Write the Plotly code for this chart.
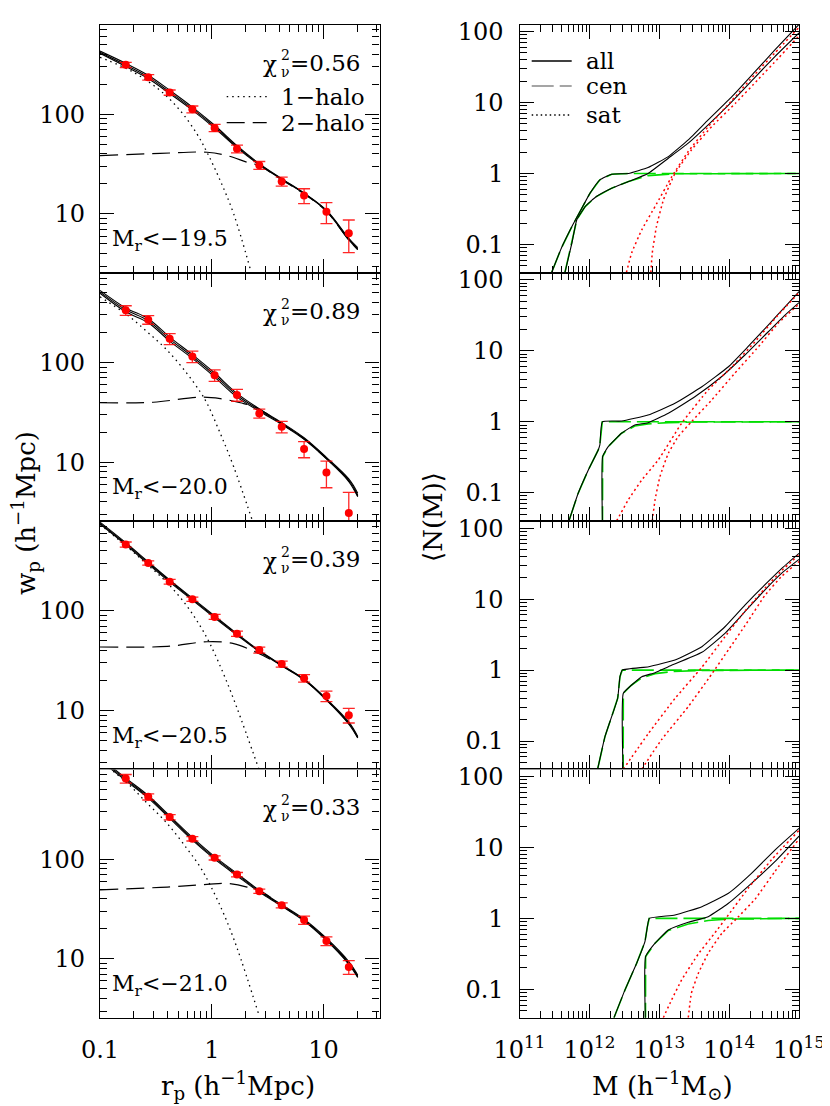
import plotly.graph_objects as go

# ---------------- data: projected correlation functions ----------------
rp_bins = [0.17, 0.27, 0.42, 0.67, 1.06, 1.68, 2.66, 4.22, 6.69, 10.6, 16.8]

wp_195 = [313, 235, 165, 112, 73, 45, 30.8, 21.2, 15.3, 10.5, 6.4]
err_195 = [19, 15, 10, 9, 6, 4, 2.8, 2.2, 2.6, 2.5, 2.3]
wp_200 = [334, 269, 173, 115, 74.6, 47.3, 30.9, 22.7, 13.6, 7.9, 3.1]
err_200 = [37, 27, 22, 15, 10, 6.4, 3.2, 3.0, 2.5, 2.35, 1.9]
wp_205 = [463, 302, 196, 131, 87, 59, 40.5, 29.3, 21.1, 14.0, 9.0]
err_205 = [27, 15, 11, 6.5, 5, 3.5, 2.8, 2.0, 1.8, 1.7, 1.5]
wp_210 = [642, 422, 264, 160, 103, 70, 47.7, 34.4, 24.5, 15.1, 8.3]
err_210 = [64, 30, 16, 8, 5, 3.5, 2.4, 2.0, 2.3, 1.5, 1.3]

rp_model = [0.1, 0.17, 0.27, 0.42, 0.67, 1.06, 1.68, 2.66, 4.22, 6.69, 10.6, 16.8, 20.2]
mod_195_hi = [430, 324, 246, 174, 118, 77.5, 48.3, 32.0, 22.6, 16.2, 10.9, 5.7, 4.6]
mod_195_mid = [418, 312, 237, 167, 114, 75, 47, 31.5, 22.4, 16.1, 10.8, 5.6, 4.5]
mod_195_lo = [408, 301, 228, 161, 110, 72.5, 46, 31.1, 22.2, 16.0, 10.7, 5.5, 4.4]
mod_200_hi = [530, 353, 275, 180, 120, 78.5, 49, 34.3, 25.0, 17.6, 11.2, 6.8, 4.9]
mod_200_mid = [512, 338, 263, 172, 115, 75, 47, 33.4, 24.5, 17.3, 11.0, 6.6, 4.7]
mod_200_lo = [495, 323, 251, 164, 110, 71.5, 45, 32.5, 24.0, 17.0, 10.8, 6.4, 4.5]
mod_205_hi = [775, 482, 310, 204, 134, 89, 59, 40, 28.7, 20.7, 13.1, 7.7, 5.5]
mod_205_mid = [757, 470, 302, 199, 131, 87, 58, 39.5, 28.4, 20.5, 12.9, 7.5, 5.4]
mod_205_lo = [740, 458, 294, 194, 128, 85, 57, 39, 28.1, 20.3, 12.7, 7.3, 5.3]
mod_210_hi = [1040, 650, 435, 272, 165, 106, 72, 48.7, 35.0, 25.0, 16.1, 9.4, 6.9]
mod_210_mid = [1010, 631, 422, 264, 160, 103, 70, 47.7, 34.4, 24.5, 15.7, 9.1, 6.7]
mod_210_lo = [980, 612, 409, 256, 155, 100, 68, 46.7, 33.8, 24.0, 15.3, 8.8, 6.5]

rp_1h_195 = [0.1, 0.199, 0.345, 0.521, 0.736, 0.906, 1.19, 1.57, 2.21]
w1h_195 = [373, 264, 173, 109, 63.5, 41.5, 21.6, 10, 2.8]
rp_1h_200 = [0.1, 0.174, 0.262, 0.396, 0.598, 0.786, 0.906, 1.19, 1.57, 2.28]
w1h_200 = [456, 302, 205, 134, 78, 51, 39, 19.5, 9, 2.7]
rp_1h_205 = [0.1, 0.174, 0.262, 0.396, 0.598, 0.786, 0.97, 1.28, 1.68, 2.65]
w1h_205 = [734, 441, 295, 193, 112, 70.6, 46, 23, 10.6, 2.55]
rp_1h_210 = [0.1, 0.174, 0.262, 0.396, 0.598, 0.786, 0.97, 1.28, 1.68, 2.65]
w1h_210 = [960, 585, 367, 230, 128, 83.6, 54.6, 28.2, 12.9, 2.7]

rp_2h_195 = [0.1, 0.345, 0.906, 1.37, 2.07, 2.66, 4.22, 6.69, 10.6, 16.8, 20.2]
w2h_195 = [38.5, 40.5, 41.6, 38.5, 33, 30.5, 22.0, 15.9, 10.6, 5.5, 4.4]
rp_2h_200 = [0.1, 0.3, 0.786, 1.19, 1.8, 2.55, 4.22, 6.69, 10.6, 16.8, 20.2]
w2h_200 = [39.5, 40, 45, 43.5, 39.5, 35, 24.2, 17.1, 10.9, 6.5, 4.6]
rp_2h_205 = [0.1, 0.4, 0.906, 1.57, 2.36, 2.9, 4.22, 6.69, 10.6, 16.8, 20.2]
w2h_205 = [43.4, 44, 49, 47, 39.5, 35.5, 28.2, 20.4, 12.8, 7.4, 5.35]
rp_2h_210 = [0.1, 0.4, 0.906, 1.37, 2.07, 2.9, 4.22, 6.69, 10.6, 16.8, 20.2]
w2h_210 = [49.3, 52.5, 55.8, 57, 52.5, 46, 34.2, 24.3, 15.6, 9.0, 6.6]

chi2_labels = ["0.56", "0.89", "0.39", "0.33"]
mag_labels = ["−19.5", "−20.0", "−20.5", "−21.0"]

# ---------------- data: halo occupation (log10 M, log10 N) ----------------
lm_all_a_1 = [11.46, 11.60, 11.75, 11.866, 12.01, 12.15, 12.32, 12.56, 12.84, 13.13, 13.415, 13.70, 14.04, 14.37, 14.655, 15.0]
ln_all_a_1 = [-1.396, -1.05, -0.748, -0.537, -0.277, -0.09, -0.01, 0.0, 0.083, 0.238, 0.473, 0.755, 1.083, 1.435, 1.741, 2.10]
lm_all_b_1 = [11.65, 11.75, 11.82, 11.94, 12.10, 12.32, 12.56, 12.84, 13.13, 13.415, 13.70, 14.04, 14.37, 14.655, 15.0]
ln_all_b_1 = [-1.396, -0.98, -0.653, -0.466, -0.325, -0.207, -0.114, 0.0, 0.215, 0.427, 0.685, 1.013, 1.356, 1.647, 1.98]
lm_cen_a_1 = [11.46, 11.60, 11.75, 11.866, 12.01, 12.15, 12.32, 12.56, 15.0]
ln_cen_a_1 = [-1.396, -1.05, -0.748, -0.537, -0.277, -0.09, -0.01, 0.0, 0.0]
lm_cen_b_1 = [11.65, 11.75, 11.82, 11.94, 12.10, 12.32, 12.56, 12.84, 13.2, 15.0]
ln_cen_b_1 = [-1.396, -0.98, -0.653, -0.466, -0.325, -0.207, -0.114, -0.03, -0.005, 0.0]
lm_sat_a_1 = [12.53, 12.605, 12.75, 12.94, 13.18, 13.415, 13.70, 14.04, 14.37, 14.655, 15.0]
ln_sat_a_1 = [-1.396, -1.12, -0.794, -0.466, -0.044, 0.309, 0.66, 1.03, 1.40, 1.70, 2.06]
lm_sat_b_1 = [12.88, 12.90, 12.96, 13.06, 13.225, 13.46, 13.75, 14.09, 14.42, 14.70, 15.0]
ln_sat_b_1 = [-1.396, -1.12, -0.748, -0.372, 0.0, 0.332, 0.66, 0.99, 1.33, 1.62, 1.94]

lm_all_a_2 = [11.708, 11.84, 11.985, 12.127, 12.15, 12.185, 12.46, 12.84, 13.225, 13.61, 13.99, 14.27, 14.56, 14.80, 15.0]
ln_all_a_2 = [-1.397, -1.007, -0.679, -0.397, -0.327, 0.0, 0.011, 0.096, 0.26, 0.494, 0.776, 1.058, 1.363, 1.621, 1.835]
lm_all_b_2 = [12.188, 12.19, 12.27, 12.46, 12.65, 12.84, 13.13, 13.51, 13.89, 14.226, 14.56, 14.80, 15.0]
ln_all_b_2 = [-1.5, -0.49, -0.35, -0.162, -0.045, -0.013, 0.12, 0.353, 0.635, 0.941, 1.269, 1.504, 1.68]
lm_cen_a_2 = [11.708, 11.84, 11.985, 12.127, 12.15, 12.185, 15.0]
ln_cen_a_2 = [-1.397, -1.007, -0.679, -0.397, -0.327, 0.0, 0.0]
lm_cen_b_2 = [12.188, 12.19, 12.27, 12.46, 12.65, 12.84, 13.13, 13.5, 15.0]
ln_cen_b_2 = [-1.5, -0.49, -0.35, -0.162, -0.06, -0.03, -0.012, -0.004, 0.0]
lm_sat_a_2 = [12.39, 12.557, 12.75, 12.986, 13.32, 13.70, 14.04, 14.37, 14.70, 15.0]
ln_sat_a_2 = [-1.397, -1.1, -0.82, -0.538, -0.021, 0.448, 0.776, 1.128, 1.504, 1.82]
lm_sat_b_2 = [12.90, 12.94, 13.01, 13.13, 13.27, 13.46, 13.75, 14.08, 14.42, 14.70, 15.0]
ln_sat_b_2 = [-1.397, -1.1, -0.773, -0.444, -0.21, 0.0, 0.307, 0.683, 1.058, 1.387, 1.66]

lm_all_a_3 = [12.118, 12.223, 12.319, 12.405, 12.438, 12.471, 12.85, 13.225, 13.61, 13.94, 14.226, 14.51, 14.75, 15.0]
ln_all_a_3 = [-1.397, -0.938, -0.656, -0.397, -0.093, 0.0, 0.048, 0.142, 0.33, 0.611, 0.917, 1.2, 1.43, 1.645]
lm_all_b_3 = [12.484, 12.486, 12.605, 12.75, 12.94, 13.13, 13.61, 13.94, 14.226, 14.51, 14.75, 15.0]
ln_all_b_3 = [-1.5, -0.327, -0.21, -0.093, -0.037, 0.048, 0.25, 0.518, 0.823, 1.128, 1.363, 1.56]
lm_cen_a_3 = [12.118, 12.223, 12.319, 12.405, 12.438, 12.471, 15.0]
ln_cen_a_3 = [-1.397, -0.938, -0.656, -0.397, -0.093, 0.0, 0.0]
lm_cen_b_3 = [12.484, 12.486, 12.605, 12.75, 12.94, 13.2, 13.6, 15.0]
ln_cen_b_3 = [-1.5, -0.327, -0.21, -0.11, -0.05, -0.02, -0.005, 0.0]
lm_sat_a_3 = [12.485, 12.84, 13.225, 13.61, 13.94, 14.226, 14.51, 14.75, 15.0]
ln_sat_a_3 = [-1.397, -0.9, -0.40, 0.04, 0.47, 0.83, 1.15, 1.40, 1.625]
lm_sat_b_3 = [12.75, 13.03, 13.415, 13.72, 14.0, 14.25, 14.51, 14.75, 15.0]
ln_sat_b_3 = [-1.397, -0.984, -0.515, -0.1, 0.3, 0.66, 1.05, 1.32, 1.53]

lm_all_a_4 = [12.352, 12.51, 12.677, 12.795, 12.83, 12.857, 13.225, 13.61, 13.99, 14.32, 14.655, 15.0]
ln_all_a_4 = [-1.4, -1.008, -0.632, -0.328, -0.117, 0.0, 0.048, 0.165, 0.354, 0.635, 0.963, 1.269]
lm_all_b_4 = [12.803, 12.805, 12.94, 13.13, 13.415, 13.70, 13.99, 14.32, 14.655, 15.0]
ln_all_b_4 = [-1.5, -0.539, -0.35, -0.163, -0.055, 0.024, 0.213, 0.494, 0.80, 1.16]
lm_cen_a_4 = [12.352, 12.51, 12.677, 12.795, 12.83, 12.857, 15.0]
ln_cen_a_4 = [-1.4, -1.008, -0.632, -0.328, -0.117, 0.0, 0.0]
lm_cen_b_4 = [12.803, 12.805, 12.94, 13.13, 13.415, 13.70, 14.0, 15.0]
ln_cen_b_4 = [-1.5, -0.539, -0.35, -0.17, -0.08, -0.03, -0.01, 0.0]
lm_sat_a_4 = [13.058, 13.177, 13.32, 13.56, 13.8, 13.99, 14.27, 14.61, 15.0]
ln_sat_a_4 = [-1.4, -1.149, -0.868, -0.5, -0.2, 0.05, 0.42, 0.83, 1.24]
lm_sat_b_4 = [13.415, 13.46, 13.56, 13.70, 13.896, 14.11, 14.37, 14.655, 15.0]
ln_sat_b_4 = [-1.4, -1.055, -0.773, -0.492, -0.21, 0.0, 0.27, 0.66, 1.12]

# ---------------- figure ----------------
OFF = 8  # page body margin
W, H = 830 - OFF, 1106 - OFF
FONT = "DejaVu Serif"
tops = [24.5, 272.8, 521.1, 769.4]
PH = 248.3
LX = (100.0, 379.5)
RX = (519.5, 799.0)

left_sets = [
    (wp_195, err_195, mod_195_hi, mod_195_mid, mod_195_lo, rp_1h_195, w1h_195, rp_2h_195, w2h_195),
    (wp_200, err_200, mod_200_hi, mod_200_mid, mod_200_lo, rp_1h_200, w1h_200, rp_2h_200, w2h_200),
    (wp_205, err_205, mod_205_hi, mod_205_mid, mod_205_lo, rp_1h_205, w1h_205, rp_2h_205, w2h_205),
    (wp_210, err_210, mod_210_hi, mod_210_mid, mod_210_lo, rp_1h_210, w1h_210, rp_2h_210, w2h_210),
]
right_sets = [
    ((lm_all_a_1, ln_all_a_1), (lm_all_b_1, ln_all_b_1), (lm_cen_a_1, ln_cen_a_1), (lm_cen_b_1, ln_cen_b_1), (lm_sat_a_1, ln_sat_a_1), (lm_sat_b_1, ln_sat_b_1)),
    ((lm_all_a_2, ln_all_a_2), (lm_all_b_2, ln_all_b_2), (lm_cen_a_2, ln_cen_a_2), (lm_cen_b_2, ln_cen_b_2), (lm_sat_a_2, ln_sat_a_2), (lm_sat_b_2, ln_sat_b_2)),
    ((lm_all_a_3, ln_all_a_3), (lm_all_b_3, ln_all_b_3), (lm_cen_a_3, ln_cen_a_3), (lm_cen_b_3, ln_cen_b_3), (lm_sat_a_3, ln_sat_a_3), (lm_sat_b_3, ln_sat_b_3)),
    ((lm_all_a_4, ln_all_a_4), (lm_all_b_4, ln_all_b_4), (lm_cen_a_4, ln_cen_a_4), (lm_cen_b_4, ln_cen_b_4), (lm_sat_a_4, ln_sat_a_4), (lm_sat_b_4, ln_sat_b_4)),
]

fig = go.Figure()


def axn(k):
    return ("x" if k == 1 else f"x{k}"), ("y" if k == 1 else f"y{k}")


def px2fx(px):
    return (px - OFF) / W


def py2fy(py):
    return 1 - (py - OFF) / H


def minor_vals(e0, e1):
    return [m * 10 ** e for e in range(e0, e1) for m in range(2, 10)]


tickfont = dict(family=FONT, size=24, color="black")
common = dict(type="log", showgrid=False, zeroline=False, showline=True, linecolor="black",
              linewidth=1.2, mirror="allticks", ticks="inside", ticklen=14, tickwidth=1.1,
              tickcolor="black", tickfont=tickfont, tickmode="array", automargin=False)
minor_common = dict(ticks="inside", ticklen=7, tickwidth=1.0, tickcolor="black", showgrid=False)

layout_axes = {}
for i in range(4):
    top = tops[i]
    ydom = [py2fy(top + PH), py2fy(top)]
    kl, kr = 2 * i + 1, 2 * i + 2
    # ----- left panel -----
    xa, ya = axn(kl)
    wp, err, mhi, mmid, mlo, r1, w1, r2, w2 = left_sets[i]
    for mod in (mhi, mmid, mlo):
        fig.add_trace(go.Scatter(x=rp_model, y=mod, mode="lines", line=dict(color="black", width=1.1, shape="spline"),
                                 xaxis=xa, yaxis=ya, showlegend=False, hoverinfo="skip"))
    fig.add_trace(go.Scatter(x=r1, y=w1, mode="lines", line=dict(color="black", width=1.3, dash="1.5px,4px", shape="spline"),
                             xaxis=xa, yaxis=ya, showlegend=False))
    fig.add_trace(go.Scatter(x=r2, y=w2, mode="lines", line=dict(color="black", width=1.2, dash="18px,8px", shape="spline"),
                             xaxis=xa, yaxis=ya, showlegend=False))
    fig.add_trace(go.Scatter(x=rp_bins, y=wp, mode="markers",
                             marker=dict(color="red", size=8),
                             error_y=dict(type="data", array=err, color="rgba(255,0,0,0.85)", thickness=1.3, width=6),
                             xaxis=xa, yaxis=ya, showlegend=False))
    last = (i == 3)
    layout_axes["xaxis" if kl == 1 else f"xaxis{kl}"] = dict(
        common, domain=[px2fx(LX[0]), px2fx(LX[1])], range=[-1, 1.5], anchor=ya,
        tickvals=[0.1, 1, 10], ticktext=["0.1", "1", "10"], showticklabels=last, ticklabelstandoff=10,
        minor=dict(minor_common, tickvals=minor_vals(-1, 2)))
    layout_axes["yaxis" if kl == 1 else f"yaxis{kl}"] = dict(
        common, domain=ydom, range=[0.41, 2.9], anchor=xa,
        tickvals=[10, 100], ticktext=["10", "100"], ticklabelstandoff=9,
        minor=dict(minor_common, tickvals=minor_vals(0, 3)))
    # ----- right panel -----
    xa, ya = axn(kr)
    alla, allb, cena, cenb, sata, satb = right_sets[i]
    for lm, ln in (cena, cenb):
        fig.add_trace(go.Scatter(x=[10 ** v for v in lm], y=[10 ** v for v in ln], mode="lines",
                                 line=dict(color="#00dd00", width=1.6, dash="22px,6px"),
                                 xaxis=xa, yaxis=ya, showlegend=False))
    for lm, ln in (alla, allb):
        fig.add_trace(go.Scatter(x=[10 ** v for v in lm], y=[10 ** v for v in ln], mode="lines",
                                 line=dict(color="black", width=1.1, shape="spline", smoothing=0.4),
                                 xaxis=xa, yaxis=ya, showlegend=False))
    for lm, ln in (sata, satb):
        fig.add_trace(go.Scatter(x=[10 ** v for v in lm], y=[10 ** v for v in ln], mode="lines",
                                 line=dict(color="red", width=1.5, dash="2px,3px", shape="spline", smoothing=0.4),
                                 xaxis=xa, yaxis=ya, showlegend=False))
    layout_axes["xaxis" if kr == 1 else f"xaxis{kr}"] = dict(
        common, domain=[px2fx(RX[0]), px2fx(RX[1])], range=[11, 15], anchor=ya,
        tickvals=[1e11, 1e12, 1e13, 1e14, 1e15],
        ticktext=["10<sup>11</sup>", "10<sup>12</sup>", "10<sup>13</sup>", "10<sup>14</sup>", "10<sup>15</sup>"],
        showticklabels=last, ticklabelstandoff=10,
        minor=dict(minor_common, tickvals=minor_vals(11, 15)))
    layout_axes["yaxis" if kr == 1 else f"yaxis{kr}"] = dict(
        common, domain=ydom, range=[-1.4, 2.1], anchor=xa,
        tickvals=[0.1, 1, 10, 100], ticktext=["0.1", "1", "10", "100"], ticklabelstandoff=10,
        minor=dict(minor_common, tickvals=minor_vals(-2, 3)))

annotations = []
shapes = []
lab_font = dict(family=FONT, size=23, color="black")
mag_font = dict(family=FONT, size=22, color="black")
small_font = dict(family=FONT, size=14, color="black")


def ann(x, y, text, font, xanchor="left", yanchor="middle", **kw):
    d = dict(xref="paper", yref="paper", x=px2fx(x), y=py2fy(y), xanchor=xanchor, yanchor=yanchor,
             showarrow=False, font=font, text=text)
    d.update(kw)
    annotations.append(d)


for i in range(4):
    top = tops[i]
    # chi^2_nu label with stacked super/subscript
    ann(362, top + 38, f"={chi2_labels[i]}", lab_font, xanchor="right")
    ann(279, top + 40, "χ", lab_font, xanchor="right")
    ann(279, top + 31, "2", small_font)
    ann(279, top + 47, "ν", small_font)
    ann(110, top + 216, f"M<sub>r</sub>&lt;{mag_labels[i]}", mag_font)

# left legend
shapes.append(dict(type="line", xref="paper", yref="paper", x0=px2fx(226.7), x1=px2fx(266.7),
                   y0=py2fy(96.7), y1=py2fy(96.7), line=dict(color="black", width=1.3, dash="1.5px,4px")))
shapes.append(dict(type="line", xref="paper", yref="paper", x0=px2fx(226.7), x1=px2fx(266.7),
                   y0=py2fy(122.7), y1=py2fy(122.7), line=dict(color="black", width=1.2, dash="18px,8px")))
ann(279, 96.7, "1−halo", lab_font)
ann(279, 122.7, "2−halo", lab_font)
# right legend
leg_r = [("all", 61, dict(color="black", width=1.3)),
         ("cen", 86, dict(color="#888888", width=1.3, dash="22px,6px")),
         ("sat", 115, dict(color="black", width=1.3, dash="1.5px,3px"))]
for txt, yy, ln in leg_r:
    shapes.append(dict(type="line", xref="paper", yref="paper", x0=px2fx(531.7), x1=px2fx(571.7),
                       y0=py2fy(yy), y1=py2fy(yy), line=ln))
    ann(584, yy, txt, lab_font)

title_font = dict(family=FONT, size=26, color="black")
ann(238, 1085, "r<sub>p</sub> (h<sup>−1</sup>Mpc)", title_font, xanchor="center")
ann(662, 1085, "M (h<sup>−1</sup>M<sub>⊙</sub>)", title_font, xanchor="center")
ann(25, 513, "w<sub>p</sub> (h<sup>−1</sup>Mpc)", title_font, xanchor="center", textangle=-90)
ann(433, 517, "⟨N(M)⟩", title_font, xanchor="center", textangle=-90)

fig.update_layout(width=W, height=H, margin=dict(l=0, r=0, t=0, b=0), paper_bgcolor="white", plot_bgcolor="white",
                  showlegend=False, annotations=annotations, shapes=shapes, **layout_axes)

fig.write_html("out.html")
